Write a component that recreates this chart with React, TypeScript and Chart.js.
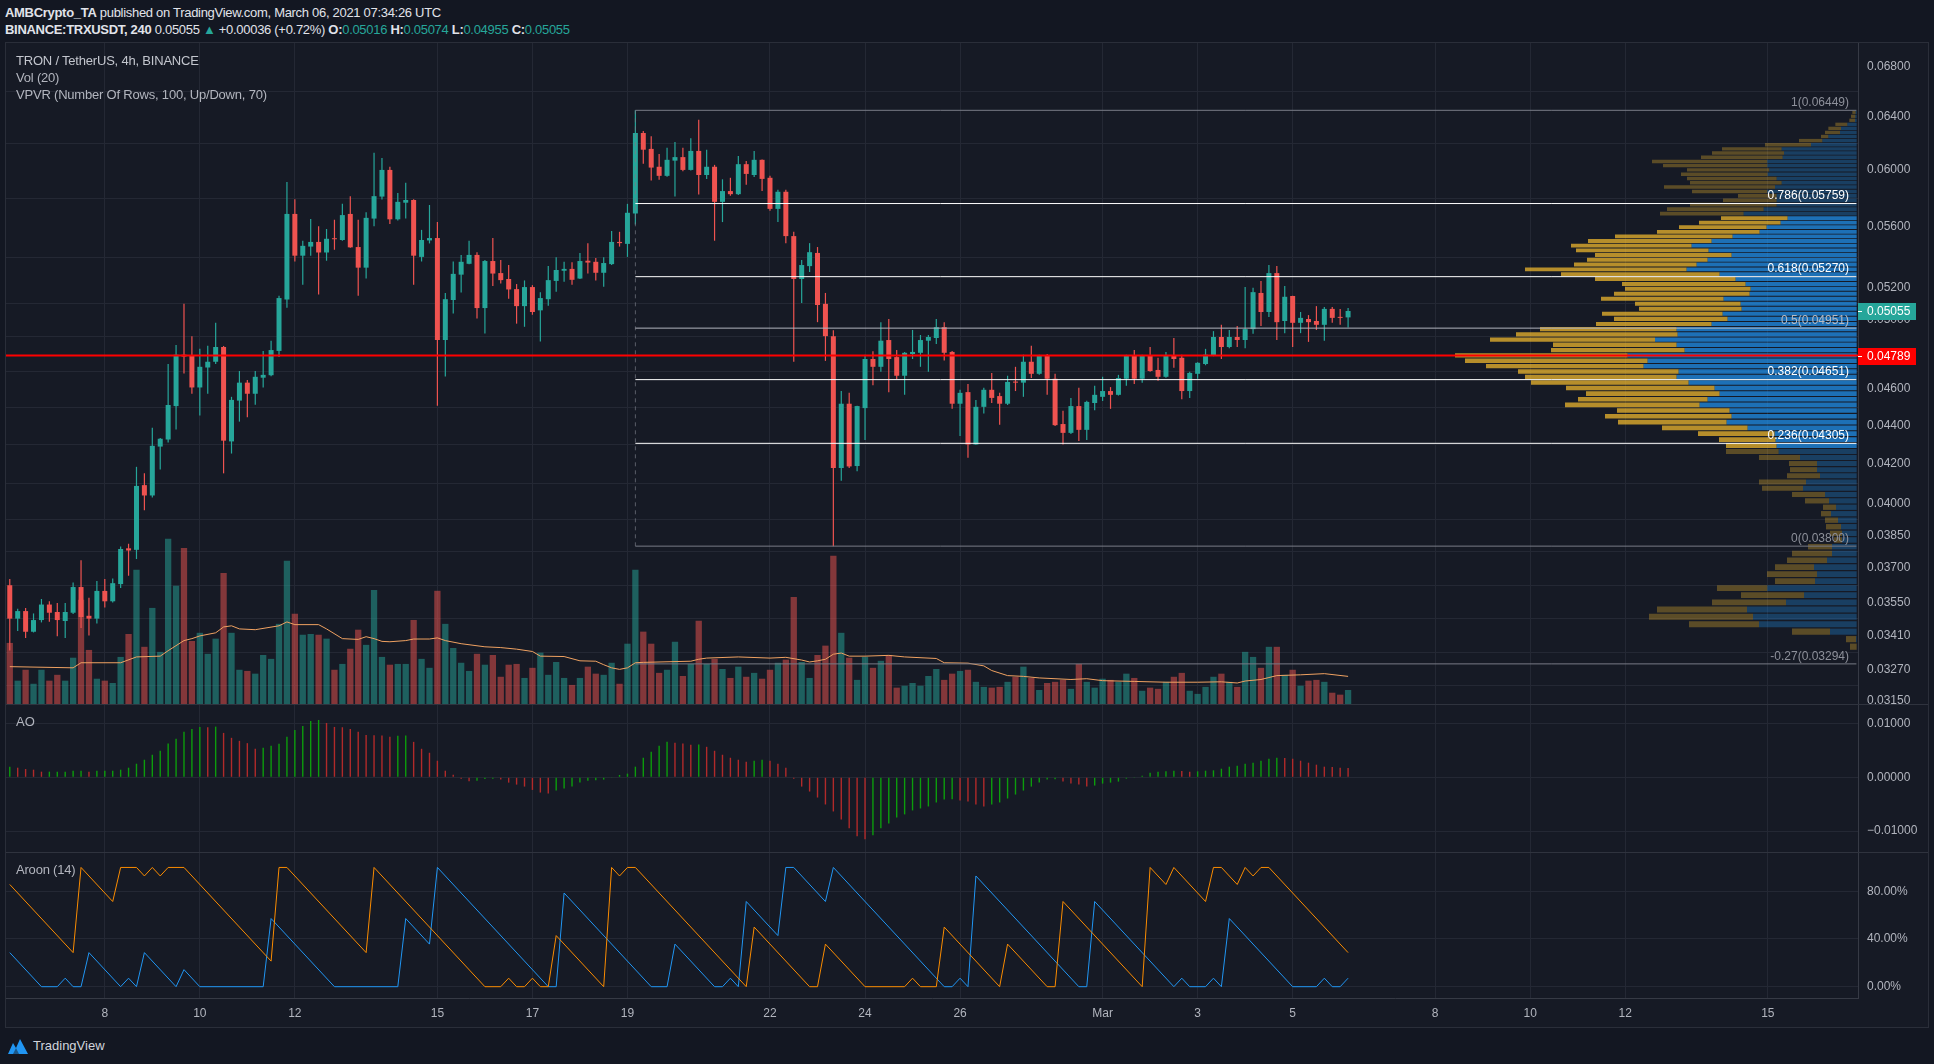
import React, { useEffect, useRef } from "react";
import { Chart, registerables } from "chart.js";

Chart.register(...registerables);

// ---------------- DATA ----------------
// 4h candles, Feb 6 2021 00:00 UTC → Mar 6 2021 04:00 UTC : [open, high, low, close]
const OHLC = [
  [0.03624, 0.03652, 0.03348, 0.0348], [0.0348, 0.03522, 0.03428, 0.03512], [0.03512, 0.03525, 0.03399, 0.03425], [0.03425, 0.03502, 0.03422, 0.03474],
  [0.03474, 0.03564, 0.03464, 0.0354], [0.0354, 0.03554, 0.03467, 0.03505], [0.03508, 0.03547, 0.03406, 0.03474], [0.0347, 0.03547, 0.03399, 0.03508],
  [0.03505, 0.03636, 0.035, 0.03616], [0.03616, 0.03736, 0.03441, 0.03487], [0.03492, 0.03569, 0.03409, 0.0348], [0.0348, 0.03643, 0.0346, 0.03599],
  [0.03599, 0.03652, 0.03527, 0.03554], [0.03554, 0.03654, 0.03549, 0.03633], [0.03629, 0.03798, 0.03612, 0.03787], [0.0379, 0.03811, 0.03666, 0.0378],
  [0.03783, 0.04184, 0.03741, 0.04088], [0.04092, 0.04151, 0.03969, 0.04041], [0.04041, 0.04387, 0.04031, 0.04292], [0.04288, 0.04333, 0.0417, 0.04329],
  [0.04325, 0.0474, 0.04309, 0.0451], [0.04504, 0.04851, 0.04378, 0.04794], [0.04794, 0.05099, 0.04686, 0.04783], [0.04787, 0.04903, 0.04572, 0.04607],
  [0.04607, 0.04828, 0.04453, 0.04724], [0.0472, 0.04846, 0.04572, 0.04753], [0.04753, 0.04983, 0.0474, 0.04839], [0.04839, 0.04845, 0.04151, 0.04319],
  [0.04315, 0.04555, 0.04252, 0.04538], [0.04534, 0.047, 0.0442, 0.04634], [0.04634, 0.04649, 0.04443, 0.04572], [0.04572, 0.047, 0.04512, 0.04667],
  [0.04662, 0.04816, 0.04607, 0.04678], [0.04676, 0.04876, 0.0467, 0.04821], [0.04816, 0.0515, 0.0478, 0.05135], [0.05126, 0.05911, 0.05075, 0.05687],
  [0.05687, 0.0579, 0.05368, 0.05406], [0.05406, 0.05505, 0.05219, 0.05471], [0.05466, 0.05652, 0.05406, 0.05497], [0.05497, 0.05602, 0.05157, 0.05427],
  [0.05427, 0.05584, 0.05373, 0.05518], [0.0552, 0.05647, 0.05445, 0.05515], [0.0551, 0.05757, 0.05505, 0.05679], [0.05687, 0.05811, 0.05458, 0.05461],
  [0.05463, 0.05647, 0.0515, 0.05328], [0.05328, 0.05698, 0.05258, 0.0566], [0.05655, 0.06125, 0.05602, 0.05811], [0.05808, 0.06087, 0.05787, 0.05999],
  [0.05999, 0.06022, 0.05618, 0.0565], [0.0565, 0.05833, 0.05642, 0.05771], [0.05765, 0.05906, 0.05655, 0.05784], [0.05784, 0.0579, 0.05219, 0.05406],
  [0.05398, 0.05578, 0.05368, 0.0551], [0.05507, 0.05749, 0.05487, 0.05523], [0.05523, 0.05631, 0.04506, 0.0488], [0.0488, 0.05167, 0.04669, 0.05128],
  [0.05123, 0.05368, 0.05039, 0.05288], [0.05283, 0.05411, 0.05169, 0.05366], [0.05353, 0.05505, 0.0535, 0.05411], [0.05411, 0.05429, 0.05009, 0.05073],
  [0.05073, 0.05378, 0.04919, 0.05371], [0.05371, 0.05523, 0.05211, 0.0529], [0.05293, 0.05378, 0.05226, 0.05248], [0.05255, 0.05345, 0.05131, 0.05189],
  [0.05191, 0.05223, 0.04978, 0.05085], [0.05085, 0.05246, 0.04959, 0.05204], [0.05204, 0.05216, 0.05032, 0.05049], [0.05059, 0.05172, 0.04871, 0.05135],
  [0.05128, 0.05338, 0.05087, 0.05248], [0.05243, 0.05396, 0.05174, 0.05313], [0.05308, 0.05366, 0.05238, 0.0532], [0.0532, 0.05363, 0.05219, 0.0525],
  [0.05258, 0.05424, 0.05255, 0.05371], [0.05373, 0.05489, 0.0529, 0.05361], [0.05366, 0.05391, 0.05246, 0.05295], [0.05295, 0.05396, 0.05206, 0.05358],
  [0.05351, 0.0557, 0.05345, 0.05497], [0.05497, 0.05565, 0.05466, 0.05489], [0.05484, 0.05757, 0.05398, 0.05695], [0.0569, 0.06449, 0.05615, 0.06274],
  [0.06274, 0.06289, 0.06044, 0.06148], [0.06154, 0.0625, 0.05923, 0.06016], [0.06022, 0.06116, 0.05928, 0.05956], [0.05956, 0.06162, 0.0595, 0.06073],
  [0.06067, 0.06206, 0.05808, 0.06093], [0.06093, 0.06162, 0.0599, 0.05999], [0.05999, 0.06235, 0.05995, 0.06139], [0.06139, 0.06375, 0.05822, 0.05962],
  [0.05962, 0.06148, 0.05934, 0.06022], [0.06022, 0.06036, 0.05505, 0.05771], [0.05771, 0.05931, 0.05631, 0.05847], [0.05847, 0.05942, 0.05814, 0.05825],
  [0.05825, 0.06101, 0.05819, 0.06041], [0.06041, 0.06064, 0.05892, 0.0597], [0.05962, 0.06139, 0.05948, 0.06073], [0.06073, 0.06075, 0.05847, 0.05934],
  [0.05942, 0.05956, 0.05709, 0.05722], [0.05722, 0.05856, 0.05631, 0.05842], [0.05842, 0.05856, 0.05489, 0.05536], [0.05536, 0.05565, 0.04753, 0.05255],
  [0.05255, 0.05378, 0.05104, 0.05345], [0.05338, 0.05489, 0.053, 0.05429], [0.05424, 0.05463, 0.04987, 0.05092], [0.05099, 0.05167, 0.04758, 0.04903],
  [0.04903, 0.04938, 0.038, 0.04178], [0.04178, 0.04587, 0.04114, 0.04517], [0.04517, 0.04577, 0.04178, 0.04186], [0.04188, 0.04506, 0.04162, 0.04504],
  [0.04493, 0.04794, 0.04323, 0.04769], [0.04769, 0.04814, 0.0462, 0.04724], [0.04724, 0.04987, 0.04695, 0.04876], [0.0488, 0.05006, 0.04581, 0.04769],
  [0.0478, 0.04821, 0.04653, 0.04673], [0.04673, 0.0481, 0.04566, 0.04805], [0.04798, 0.0494, 0.04769, 0.0481], [0.04805, 0.0491, 0.04724, 0.0488],
  [0.04876, 0.0491, 0.04695, 0.04898], [0.04892, 0.05006, 0.04857, 0.04957], [0.04957, 0.04987, 0.0476, 0.04805], [0.0481, 0.04816, 0.04489, 0.04517],
  [0.04517, 0.04594, 0.04343, 0.04577], [0.04581, 0.04627, 0.0423, 0.04299], [0.04299, 0.04538, 0.04297, 0.045], [0.045, 0.04605, 0.04464, 0.04594],
  [0.04594, 0.04689, 0.04521, 0.04549], [0.04559, 0.04577, 0.04403, 0.04517], [0.04517, 0.04673, 0.0451, 0.04638], [0.0464, 0.04724, 0.04587, 0.04634],
  [0.04634, 0.04794, 0.04555, 0.04753], [0.04753, 0.04846, 0.0466, 0.04684], [0.04684, 0.04794, 0.04678, 0.04787], [0.04787, 0.04798, 0.04566, 0.04656],
  [0.04656, 0.04684, 0.04397, 0.04401], [0.04407, 0.04478, 0.04299, 0.0436], [0.0436, 0.04549, 0.04354, 0.04504], [0.04504, 0.04605, 0.04317, 0.04376],
  [0.04376, 0.04534, 0.04323, 0.04527], [0.04521, 0.04616, 0.04482, 0.04566], [0.04555, 0.04667, 0.04532, 0.04587], [0.04587, 0.04609, 0.04489, 0.04566],
  [0.04566, 0.04678, 0.04562, 0.0466], [0.04656, 0.04794, 0.04616, 0.04787], [0.04787, 0.04821, 0.04627, 0.04656], [0.04656, 0.04794, 0.04634, 0.04787],
  [0.04787, 0.04839, 0.04695, 0.047], [0.04706, 0.04776, 0.04645, 0.04667], [0.04667, 0.0481, 0.04662, 0.04787], [0.04787, 0.04892, 0.04718, 0.04769],
  [0.04776, 0.04794, 0.04542, 0.04587], [0.04587, 0.04695, 0.04549, 0.04689], [0.04684, 0.0475, 0.04656, 0.04747], [0.0474, 0.04828, 0.04733, 0.04794],
  [0.04787, 0.04933, 0.04785, 0.04898], [0.04898, 0.04971, 0.04769, 0.04839], [0.04839, 0.0494, 0.04832, 0.04898], [0.04898, 0.04964, 0.04839, 0.0488],
  [0.0488, 0.05204, 0.04832, 0.04945], [0.04945, 0.05199, 0.04917, 0.05172], [0.05167, 0.05243, 0.04964, 0.05049], [0.05049, 0.05345, 0.05018, 0.05293],
  [0.05293, 0.05338, 0.0488, 0.04987], [0.04994, 0.05211, 0.04921, 0.05143], [0.05148, 0.0515, 0.04839, 0.04983], [0.04983, 0.05049, 0.04921, 0.05013],
  [0.05006, 0.0503, 0.04869, 0.04987], [0.04994, 0.05085, 0.0494, 0.04971], [0.04971, 0.0508, 0.04876, 0.05068], [0.05068, 0.0508, 0.04983, 0.05013],
  [0.05018, 0.05068, 0.04971, 0.05013], [0.05016, 0.05074, 0.04955, 0.05055],
];

// volume per candle (millions TRX)
const VOLUME = [
  157, 60, 88, 52, 88, 60, 75, 60, 119, 268, 139, 65, 60, 54, 121, 180, 345, 147, 247, 134,
  425, 304, 401, 162, 183, 129, 168, 337, 183, 88, 85, 78, 126, 116, 206, 368, 232, 178, 180, 178,
  168, 88, 103, 142, 191, 152, 293, 121, 101, 103, 103, 216, 116, 93, 291, 206, 144, 106, 85, 129,
  101, 126, 70, 101, 103, 67, 93, 132, 75, 108, 67, 49, 67, 96, 78, 75, 106, 52, 155, 345,
  186, 155, 80, 88, 160, 72, 103, 214, 103, 116, 90, 67, 96, 70, 80, 65, 88, 106, 114, 275,
  108, 67, 126, 150, 381, 183, 119, 62, 121, 93, 111, 126, 42, 47, 54, 47, 72, 90, 62, 78,
  85, 88, 57, 44, 42, 44, 57, 70, 96, 67, 36, 54, 57, 62, 39, 103, 57, 42, 65, 62,
  57, 78, 67, 34, 42, 39, 57, 70, 80, 34, 26, 44, 70, 78, 57, 44, 134, 121, 93, 147,
  147, 75, 88, 47, 60, 62, 57, 29, 24, 36,
];

// Vol (20) moving average, read as [bar, value]
const VOL_MA = [
  [0, 96], [8, 93], [9, 106], [14, 106], [16, 121], [19, 123], [20, 137], [22, 163], [23, 168], [24, 175],
  [26, 183], [27, 198], [28, 201], [29, 193], [31, 191], [34, 201], [35, 211], [36, 204], [39, 204], [40, 193],
  [42, 168], [44, 166], [45, 173], [46, 168], [47, 161], [48, 160], [50, 163], [51, 167], [53, 167], [54, 170],
  [55, 163], [57, 155], [60, 147], [62, 145], [64, 141], [66, 135], [67, 123], [70, 122], [72, 111], [74, 110],
  [75, 101], [76, 93], [77, 89], [78, 93], [79, 106], [80, 107], [86, 110], [87, 115], [88, 118], [92, 121],
  [96, 118], [98, 120], [100, 113], [101, 108], [102, 111], [103, 115], [104, 128], [105, 131], [106, 123], [108, 123],
  [111, 125], [113, 121], [117, 117], [118, 106], [121, 105], [123, 98], [124, 86], [126, 73], [128, 71], [130, 67],
  [134, 63], [136, 65], [138, 60], [142, 58], [146, 56], [150, 56], [153, 57], [155, 54], [156, 59], [158, 63],
  [159, 68], [160, 73], [163, 75], [166, 78], [169, 71],
];

// Awesome Oscillator, value x 10^4, one per candle
const AO_E4 = [
  19.8, 17.9, 15.4, 14.2, 10.5, 10.5, 10.5, 10.5, 12.3, 12.3,
  10.5, 12.3, 12.3, 12.3, 14.2, 17.9, 25.3, 32.7, 42.0, 49.4,
  63.0, 71.6, 84.6, 90.1, 93.8, 93.2, 94.4, 82.7, 73.5, 67.9,
  63.6, 53.1, 54.9, 58.6, 62.3, 75.3, 88.3, 95.7, 104.9, 106.8,
  101.2, 93.8, 93.2, 90.1, 84.6, 79.0, 78.4, 77.8, 75.3, 77.2,
  77.8, 66.0, 53.1, 45.7, 30.9, 12.3, 4.9, -2.5, -7.4, -6.2,
  -3.1, -2.5, -4.3, -9.9, -13.6, -17.3, -23.5, -28.4, -30.2, -24.7,
  -21.0, -17.3, -9.9, -6.2, -5.6, -4.3, -0.6, 4.3, 6.8, 19.8,
  36.4, 47.5, 58.6, 66.0, 64.2, 63.0, 60.5, 61.1, 56.8, 49.4,
  42.0, 36.4, 32.7, 29.0, 30.9, 32.7, 30.9, 25.3, 17.9, -2.5,
  -17.3, -26.5, -37.7, -50.6, -63.6, -78.4, -95.1, -109.9, -115.4, -108.0,
  -95.1, -85.8, -74.7, -69.1, -61.7, -58.0, -54.3, -46.9, -41.4, -40.7,
  -43.2, -45.1, -50.6, -54.3, -50.6, -46.9, -39.5, -32.1, -24.7, -17.3,
  -9.9, -4.3, -3.7, -8.0, -11.7, -13.6, -17.3, -15.4, -11.7, -9.9,
  -8.0, -2.5, -0.6, 3.1, 8.6, 10.5, 11.1, 12.3, 11.7, 10.5,
  11.1, 12.3, 13.0, 16.0, 19.8, 21.6, 25.3, 27.2, 30.9, 34.6,
  36.4, 35.8, 34.6, 30.9, 27.2, 23.5, 19.8, 19.1, 17.9, 17.3,
];

// Aroon (14) vertices [bar, %]
const AROON_UP = [
  [0, 85.71], [8, 28.57], [9, 100], [13, 71.43], [14, 100], [16, 100], [17, 92.86], [18, 100], [19, 92.86], [20, 100],
  [22, 100], [33, 21.43], [34, 100], [35, 100], [45, 28.57], [46, 100], [60, 0], [62, 0], [63, 7.14], [64, 0],
  [65, 0], [66, 7.14], [67, 0], [68, 0], [69, 42.86], [75, 0], [76, 100], [77, 92.86], [78, 100], [79, 100],
  [93, 0], [94, 50], [101, 0], [102, 0], [103, 35.71], [108, 0], [113, 0], [114, 7.14], [115, 0], [117, 0],
  [118, 50], [125, 0], [126, 35.71], [131, 0], [132, 0], [133, 71.43], [143, 0], [144, 100], [146, 85.71], [147, 100],
  [151, 71.43], [152, 100], [153, 100], [155, 85.71], [156, 100], [157, 92.86], [158, 100], [159, 100], [169, 28.57],
];
const AROON_DOWN = [
  [0, 28.57], [4, 0], [6, 0], [7, 7.14], [8, 0], [9, 0], [10, 28.57], [14, 0], [15, 7.14], [16, 0],
  [17, 28.57], [21, 0], [22, 14.29], [24, 0], [32, 0], [33, 57.14], [41, 0], [49, 0], [50, 57.14], [53, 35.71],
  [54, 100], [68, 0], [69, 0], [70, 78.57], [81, 0], [83, 0], [84, 35.71], [89, 0], [90, 0], [91, 7.14],
  [92, 0], [93, 71.43], [97, 42.86], [98, 100], [99, 100], [103, 71.43], [104, 100], [118, 0], [119, 0], [120, 7.14],
  [121, 0], [122, 92.86], [135, 0], [136, 0], [137, 71.43], [147, 0], [148, 7.14], [149, 0], [151, 0], [152, 7.14],
  [153, 0], [154, 57.14], [162, 0], [165, 0], [166, 7.14], [167, 0], [168, 0], [169, 7.14],
];

// Visible-range volume profile: 100 rows, bottom → top
const VP_LOW = 0.03348;
const VP_HIGH = 0.06449;
const VP_VA_FIRST = 30;
const VP_VA_LAST = 74;
const VP_UP = [
  0, 2, 80, 293, 311, 329, 212, 158, 268, 125, 119, 128, 89, 74, 74, 44, 44, 47, 56, 77,
  62, 83, 95, 161, 152, 110, 119, 119, 170, 234, 240, 243, 246, 327, 390, 375, 381, 471, 447, 411,
  426, 504, 540, 534, 639, 627, 687, 516, 540, 605, 537, 540, 435, 387, 402, 345, 348, 399, 321, 318,
  333, 363, 411, 510, 480, 447, 375, 444, 495, 435, 372, 291, 270, 228, 207, 339, 279, 240, 240, 240,
  268, 245, 225, 240, 267, 262, 268, 268, 222, 218, 225, 137, 103, 85, 50, 47, 28, 5, 4, 3,
];
const VP_DOWN = [
  20, 30, 114, 210, 312, 270, 222, 189, 151, 120, 150, 117, 120, 120, 72, 24, 36, 45, 39, 30,
  39, 72, 99, 123, 141, 99, 81, 84, 123, 158, 152, 170, 230, 257, 326, 380, 338, 404, 389, 401,
  446, 473, 455, 482, 473, 548, 518, 401, 371, 495, 485, 410, 347, 341, 362, 308, 317, 368, 407, 377,
  371, 422, 476, 485, 368, 362, 410, 398, 362, 371, 353, 308, 263, 245, 200, 251, 290, 260, 161, 116,
  226, 333, 275, 269, 260, 247, 313, 346, 245, 216, 179, 138, 70, 22, 45, 38, 36, 17, 13, 10,
];

const FIB_RATIOS = ["1", "0.786", "0.618", "0.5", "0.382", "0.236", "0", "-0.27"];
const FIB_PRICES = [0.06449, 0.05759, 0.0527, 0.04951, 0.04651, 0.04305, 0.038, 0.03294];
const FIB_START_BAR = 79;
const HLINE_PRICE = 0.04789;
const LAST_PRICE = 0.05055;

const PRICE_TICKS = [0.068, 0.064, 0.06, 0.056, 0.052, 0.05, 0.048, 0.046, 0.044, 0.042, 0.04, 0.0385, 0.037, 0.0355, 0.0341, 0.0327, 0.0315];
const AO_TICKS = [0.01, 0, -0.01];
const AROON_TICKS = [80, 40, 0];
const TIME_TICK_BARS = [12, 24, 36, 54, 66, 78, 96, 108, 120, 138, 150, 162, 180, 192, 204, 222];
const TIME_TICK_LABELS = ["8", "10", "12", "15", "17", "19", "22", "24", "26", "Mar", "3", "5", "8", "10", "12", "15"];

// ---------------- STYLE ----------------
const FONT = "'Liberation Sans', Arial, sans-serif";
const X_MIN = -0.476;
const X_MAX = 233.39;
const PRICE_MIN = 0.031375;
const PRICE_MAX = 0.06998;
const GRID = "#242834";
const AXIS_BORDER = "#363a45";
const AXIS_TEXT = "#b2b5be";
const C_UP = "#26a69a";
const C_DOWN = "#ef5350";
const FIB_LINE_COLORS = ["#787b86", "#ffffff", "#ffffff", "#b2b5be", "#ffffff", "#ffffff", "#787b86", "#787b86"];
const FIB_TEXT_COLORS = ["#8d909a", "#ffffff", "#ffffff", "#b8bbc3", "#ffffff", "#ffffff", "#8d909a", "#8d909a"];

Chart.defaults.font.family = FONT;

const commonOptions = (scales: any) => ({
  responsive: false,
  animation: false,
  events: [],
  devicePixelRatio: 1,
  layout: { padding: 0, autoPadding: false },
  plugins: { legend: { display: false }, tooltip: { enabled: false } },
  scales,
});

const timeAxis = (showLabels: boolean, showGrid = true) => ({
  type: "linear",
  min: X_MIN,
  max: X_MAX,
  offset: false,
  grid: { color: GRID, drawTicks: false, offset: false, drawOnChartArea: showGrid },
  border: { display: showLabels, color: AXIS_BORDER },
  ticks: {
    display: showLabels,
    color: AXIS_TEXT,
    font: { size: 12, family: FONT },
    padding: 8,
    maxRotation: 0,
    autoSkip: false,
    callback: (_v: any, i: number) => TIME_TICK_LABELS[i],
  },
  afterBuildTicks: (s: any) => {
    s.ticks = TIME_TICK_BARS.map((v) => ({ value: v }));
  },
  afterFit: (s: any) => {
    s.height = showLabels ? 29 : 0;
    s.paddingLeft = 0;
    s.paddingRight = 0;
  },
});

const rightAxis = (ticks: number[], fmt: (v: number) => string, extra: any, opts: any = {}) => ({
  position: "right",
  offset: false,
  grid: { color: GRID, drawTicks: false, drawOnChartArea: opts.grid !== false },
  border: { display: opts.labels !== false, color: AXIS_BORDER },
  ticks: {
    display: opts.labels !== false,
    color: AXIS_TEXT,
    font: { size: 12, family: FONT },
    padding: 9,
    autoSkip: false,
    callback: (v: any) => fmt(Number(v)),
  },
  afterBuildTicks: (s: any) => {
    s.ticks = ticks.map((v) => ({ value: v }));
  },
  afterFit: (s: any) => {
    s.width = 70;
    s.paddingTop = 0;
    s.paddingBottom = 0;
  },
  ...extra,
});

const mainOverlay = {
  id: "mainOverlay",
  afterDraw(chart: any) {
    const { ctx, chartArea, scales } = chart;
    const ys = scales.y;
    ctx.save();
    ctx.font = `12px ${FONT}`;
    ctx.textBaseline = "middle";
    ctx.textAlign = "right";
    FIB_PRICES.forEach((p, i) => {
      const py = ys.getPixelForValue(p);
      ctx.fillStyle = FIB_TEXT_COLORS[i];
      ctx.fillText(`${FIB_RATIOS[i]}(${p.toFixed(5)})`, chartArea.right - 9, py - 7.5);
    });
    const tag = (p: number, bg: string) => {
      const py = Math.round(ys.getPixelForValue(p));
      ctx.fillStyle = bg;
      ctx.fillRect(chartArea.right, py - 8, 58, 17);
      ctx.fillStyle = "#ffffff";
      ctx.fillRect(chartArea.right, py, 4, 1);
      ctx.textAlign = "left";
      ctx.font = `12px ${FONT}`;
      ctx.fillText(p.toFixed(5), chartArea.right + 9, py + 1);
    };
    tag(LAST_PRICE, C_UP);
    tag(HLINE_PRICE, "#ff0000");
    ctx.restore();
  },
};

function useChart(build: () => any) {
  const ref = useRef<HTMLCanvasElement>(null);
  useEffect(() => {
    if (!ref.current) return;
    const chart = new Chart(ref.current, build());
    return () => chart.destroy();
  }, []);
  return ref;
}

const mainCanvasStyle: any = { position: "absolute", left: 6, top: 43, width: 1922, height: 661 };

// grid + visible-range volume profile (drawn underneath the price pane)
function ProfilePane() {
  const ref = useChart(() => {
    const rowStep = (VP_HIGH - VP_LOW) / VP_UP.length;
    const rowPrice = (k: number) => VP_LOW + (k + 0.5) * rowStep;
    const inVA = (k: number) => k >= VP_VA_FIRST && k <= VP_VA_LAST;
    const common = {
      type: "bar",
      indexAxis: "y",
      xAxisID: "xp",
      barThickness: "flex",
      barPercentage: 0.82,
      categoryPercentage: 1,
      inflateAmount: 0,
    };
    return {
      type: "line",
      data: {
        datasets: [
          {
            ...common,
            yAxisID: "y",
            data: VP_UP.map((v, k) => ({ x: v, y: rowPrice(k) })),
            backgroundColor: VP_UP.map((_, k) => (inVA(k) ? "rgba(33,150,243,0.7)" : "rgba(33,150,243,0.3)")),
          },
          {
            ...common,
            yAxisID: "y2",
            data: VP_DOWN.map((v, k) => ({ x: [VP_UP[k], VP_UP[k] + v], y: rowPrice(k) })),
            backgroundColor: VP_DOWN.map((_, k) => (inVA(k) ? "rgba(251,192,45,0.7)" : "rgba(251,192,45,0.3)")),
          },
        ],
      },
      options: commonOptions({
        x: timeAxis(false, true),
        y: rightAxis(PRICE_TICKS, (v) => v.toFixed(5), { type: "logarithmic", min: PRICE_MIN, max: PRICE_MAX }, { labels: false }),
        y2: { type: "logarithmic", display: false, min: PRICE_MIN, max: PRICE_MAX, offset: false },
        xp: { type: "linear", display: false, reverse: true, min: -4, max: 5552, stacked: false, offset: false },
      }),
    };
  });
  return <canvas ref={ref} width={1922} height={661} style={mainCanvasStyle} />;
}

function MainPane() {
  const ref = useChart(() => {
    const up = OHLC.map((c) => c[3] >= c[0]);
    const datasets: any[] = [
      {
        type: "line",
        data: [{ x: X_MIN, y: HLINE_PRICE }, { x: X_MAX, y: HLINE_PRICE }],
        borderColor: "#ff0000",
        borderWidth: 2,
        pointRadius: 0,
        order: 1,
      },
      ...FIB_PRICES.map((p, i) => ({
        type: "line",
        data: [{ x: FIB_START_BAR, y: p }, { x: X_MAX - 0.2, y: p }],
        borderColor: FIB_LINE_COLORS[i],
        borderWidth: 1,
        pointRadius: 0,
        order: 2,
      })),
      {
        type: "line",
        data: [{ x: FIB_START_BAR, y: FIB_PRICES[0] }, { x: FIB_START_BAR, y: FIB_PRICES[6] }],
        borderColor: "rgba(120,123,134,0.7)",
        borderDash: [4, 4],
        borderWidth: 1,
        pointRadius: 0,
        order: 2,
      },
      {
        type: "bar",
        data: OHLC.map((c, i) => ({ x: i, y: [c[0], c[3]] })),
        backgroundColor: up.map((u) => (u ? C_UP : C_DOWN)),
        barThickness: 5,
        grouped: false,
        minBarLength: 1,
        inflateAmount: 0,
        order: 3,
      },
      {
        type: "bar",
        data: OHLC.map((c, i) => ({ x: i, y: [c[2], c[1]] })),
        backgroundColor: up.map((u) => (u ? C_UP : C_DOWN)),
        barThickness: 1.2,
        grouped: false,
        inflateAmount: 0,
        order: 4,
      },
      {
        type: "line",
        yAxisID: "yv",
        data: VOL_MA.map(([b, v]) => ({ x: b, y: v })),
        borderColor: "#f0a262",
        borderWidth: 1,
        pointRadius: 0,
        order: 7,
      },
      {
        type: "bar",
        yAxisID: "yv",
        data: VOLUME.map((v, i) => ({ x: i, y: v })),
        backgroundColor: up.map((u) => (u ? "rgba(38,166,154,0.5)" : "rgba(239,83,80,0.5)")),
        barThickness: 6.3,
        grouped: false,
        inflateAmount: 0,
        order: 8,
      },
    ];
    return {
      type: "line",
      data: { datasets },
      options: commonOptions({
        x: timeAxis(false, false),
        y: rightAxis(PRICE_TICKS, (v) => v.toFixed(5), { type: "logarithmic", min: PRICE_MIN, max: PRICE_MAX }, { grid: false }),
        yv: { type: "linear", display: false, min: 0, max: 1699, offset: false },
      }),
      plugins: [mainOverlay],
    };
  });
  return <canvas ref={ref} width={1922} height={661} style={mainCanvasStyle} />;
}

function AOPane() {
  const ref = useChart(() => ({
    type: "line",
    data: {
      datasets: [
        {
          type: "bar",
          data: AO_E4.map((v, i) => ({ x: i, y: v / 10000 })),
          backgroundColor: AO_E4.map((v, i) => (i === 0 || v >= AO_E4[i - 1] ? "#0c9c0c" : "#b12a2a")),
          barThickness: 1.4,
          grouped: false,
          inflateAmount: 0,
        },
      ],
    },
    options: commonOptions({
      x: timeAxis(false),
      y: rightAxis(
        AO_TICKS,
        (v) => (v === 0 ? "0.00000" : v < 0 ? "\u2212" + Math.abs(v).toFixed(5) : v.toFixed(5)),
        { type: "linear", min: -0.01391, max: 0.01365 }
      ),
    }),
  }));
  return <canvas ref={ref} width={1922} height={148} style={{ position: "absolute", left: 6, top: 704, width: 1922, height: 148 }} />;
}

function AroonPane() {
  const ref = useChart(() => ({
    type: "line",
    data: {
      datasets: [
        { data: AROON_UP.map(([b, v]) => ({ x: b, y: v })), borderColor: "#fb8c00", borderWidth: 1, pointRadius: 0 },
        { data: AROON_DOWN.map(([b, v]) => ({ x: b, y: v })), borderColor: "#2196f3", borderWidth: 1, pointRadius: 0 },
      ],
    },
    options: commonOptions({
      x: timeAxis(true),
      y: rightAxis(AROON_TICKS, (v) => v.toFixed(2) + "%", { type: "linear", min: -9.48, max: 112.95 }),
    }),
  }));
  return <canvas ref={ref} width={1922} height={175} style={{ position: "absolute", left: 6, top: 852, width: 1922, height: 175 }} />;
}

const txt = (top: number, left: number, color: string, spacing = "0px"): any => ({
  position: "absolute",
  top,
  left,
  color,
  font: `13px ${FONT}`,
  letterSpacing: spacing,
  lineHeight: "18px",
  whiteSpace: "nowrap",
  zIndex: 5,
});

export default function App() {
  const teal = "#26a69a";
  return (
    <div style={{ position: "fixed", left: 0, top: 0, width: 1934, height: 1064, background: "#131722", overflow: "hidden" }}>
      <div
        style={{
          position: "absolute",
          left: 5,
          top: 42,
          width: 1924,
          height: 986,
          boxSizing: "border-box",
          border: "1px solid #2a2e39",
          background: "#161a25",
        }}
      />
      <div style={txt(4, 5, "#e1e3ea", "-0.3px")}>
        <b>AMBCrypto_TA</b> published on TradingView.com, March 06, 2021 07:34:26 UTC
      </div>
      <div style={txt(21, 5, "#e1e3ea", "-0.3px")}>
        <b>BINANCE:TRXUSDT, 240</b> 0.05055 <span style={{ color: teal }}>▲</span> +0.00036 (+0.72%) <b>O:</b>
        <span style={{ color: teal }}>0.05016</span> <b>H:</b>
        <span style={{ color: teal }}>0.05074</span> <b>L:</b>
        <span style={{ color: teal }}>0.04955</span> <b>C:</b>
        <span style={{ color: teal }}>0.05055</span>
      </div>
      <ProfilePane />
      <MainPane />
      <AOPane />
      <AroonPane />
      <div style={{ position: "absolute", left: 6, top: 704, width: 1922, height: 1, background: "#2f333e", zIndex: 4 }} />
      <div style={{ position: "absolute", left: 6, top: 852, width: 1922, height: 1, background: "#2f333e", zIndex: 4 }} />
      <div style={txt(52, 16, "#c3c6ce", "-0.2px")}>TRON / TetherUS, 4h, BINANCE</div>
      <div style={txt(69, 16, "#b2b5be", "-0.2px")}>Vol (20)</div>
      <div style={txt(86, 16, "#b2b5be", "-0.2px")}>VPVR (Number Of Rows, 100, Up/Down, 70)</div>
      <div style={txt(713, 16, "#b2b5be")}>AO</div>
      <div style={txt(861, 16, "#b2b5be", "-0.2px")}>Aroon (14)</div>
      <svg style={{ position: "absolute", left: 7, top: 1037, zIndex: 5 }} width="22" height="18" viewBox="0 0 22 18">
        <path d="M1 17 L6 6 L9 11 L13 2 L21 17 Z" fill="#2196f3" />
        <path d="M6 17 L9 11 L12 17 Z" fill="#131722" opacity="0.5" />
      </svg>
      <div style={txt(1037, 33, "#d1d4dc")}>TradingView</div>
    </div>
  );
}
